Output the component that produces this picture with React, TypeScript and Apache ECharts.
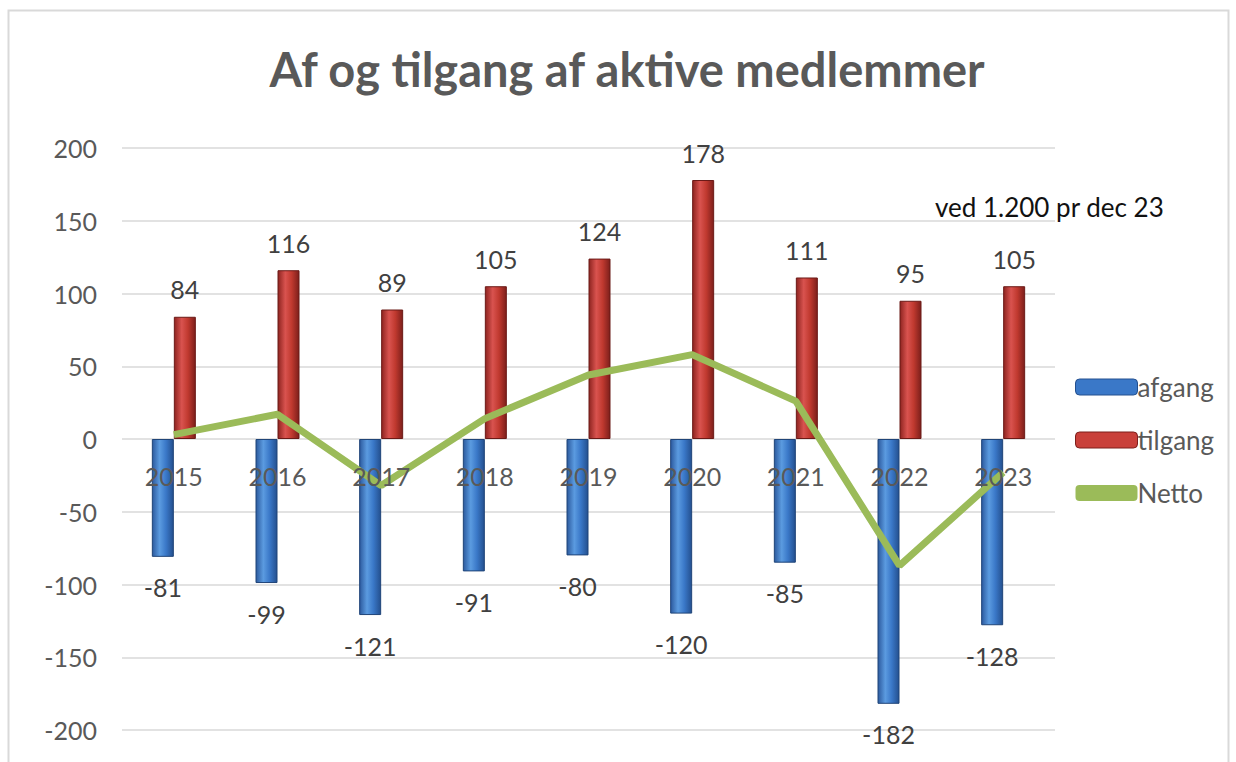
import React, { useEffect, useRef } from "react";
import * as echarts from "echarts";

const years = ["2015", "2016", "2017", "2018", "2019", "2020", "2021", "2022", "2023"];
const afgang = [-81, -99, -121, -91, -80, -120, -85, -182, -128];
const tilgang = [84, 116, 89, 105, 124, 178, 111, 95, 105];
const netto = [3, 17, -32, 14, 44, 58, 26, -87, -23];
const yTicks = { min: -200, max: 200, interval: 50 };

const FONT = "Lato, 'Open Sans', sans-serif";
const GREY = "#595959";

export default function App() {
  const ref = useRef<HTMLDivElement>(null);
  useEffect(() => {
    const chart = echarts.init(ref.current!, null, { renderer: "svg" });
    const blueGrad = new echarts.graphic.LinearGradient(0, 0, 1, 0, [
      { offset: 0, color: "#2c5a9e" },
      { offset: 0.35, color: "#5b9be0" },
      { offset: 0.65, color: "#3a78c8" },
      { offset: 1, color: "#24508f" },
    ]);
    const redGrad = new echarts.graphic.LinearGradient(0, 0, 1, 0, [
      { offset: 0, color: "#8e2420" },
      { offset: 0.35, color: "#d9534f" },
      { offset: 0.65, color: "#c0392f" },
      { offset: 1, color: "#7d1f1b" },
    ]);
    const gridTop = 148;
    const gridBottom = 32;
    const plotH = 762 - gridTop - gridBottom;
    // distance from bottom of plot to the zero line, derived from the y range
    const zeroOffset = (plotH * (0 - yTicks.min)) / (yTicks.max - yTicks.min);
    chart.setOption({
      animation: false,
      backgroundColor: "#ffffff",
      textStyle: { fontFamily: FONT },
      title: {
        text: "Af og tilgang af aktive medlemmer",
        left: 622,
        textAlign: "center",
        top: 40,
        textStyle: { fontSize: 47, fontWeight: "bold", color: GREY, fontFamily: FONT },
      },
      graphic: [
        {
          type: "rect",
          shape: { x: 8.5, y: 10.5, width: 1220, height: 770 },
          style: { fill: "none", stroke: "#d9d9d9", lineWidth: 2 },
          silent: true,
          z: -1,
        },
        {
          type: "text",
          left: 935,
          top: 194,
          style: { text: "ved 1.200 pr dec 23", fontSize: 26, fill: "#111", fontFamily: FONT },
        },
      ],
      legend: {
        orient: "vertical",
        left: 1070,
        top: 369,
        itemGap: 27,
        itemWidth: 62,
        itemHeight: 16,
        textStyle: { fontSize: 26, color: GREY, fontFamily: FONT, padding: [0, 0, 0, -5] },
        data: [
          { name: "afgang", itemStyle: { color: "#3a78c8", borderColor: "#24508f", borderWidth: 1 } },
          { name: "tilgang", itemStyle: { color: "#c9403a", borderColor: "#7d1f1b", borderWidth: 1 } },
          { name: "Netto", icon: "roundRect", itemStyle: { color: "#9bbb59" } },
        ],
      },
      grid: { left: 122, right: 181, top: gridTop, bottom: gridBottom, outerBoundsMode: "none", containLabel: false },
      xAxis: {
        type: "category",
        data: years,
        offset: -zeroOffset,
        axisLine: { onZero: false, show: false },
        axisTick: { show: false },
        axisLabel: { fontSize: 25, color: GREY, margin: 24, fontFamily: FONT },
        z: 10,
      },
      yAxis: {
        type: "value",
        min: yTicks.min,
        max: yTicks.max,
        interval: yTicks.interval,
        axisLabel: { fontSize: 25, color: GREY, margin: 25, fontFamily: FONT },
        splitLine: { lineStyle: { color: "#d9d9d9", width: 1.5 } },
        axisLine: { show: false },
        axisTick: { show: false },
      },
      series: [
        {
          name: "afgang",
          type: "bar",
          data: afgang,
          barWidth: 22,
          barGap: "0%",
          itemStyle: { color: blueGrad, borderColor: "#1f4478", borderWidth: 1 },
          label: {
            show: true,
            position: "bottom",
            distance: 18,
            fontSize: 25,
            color: "#404040",
            fontFamily: FONT,
          },
        },
        {
          name: "tilgang",
          type: "bar",
          data: tilgang,
          barWidth: 22,
          itemStyle: { color: redGrad, borderColor: "#6b1a17", borderWidth: 1 },
          label: {
            show: true,
            position: "top",
            distance: 15,
            fontSize: 25,
            color: "#404040",
            fontFamily: FONT,
          },
        },
        {
          name: "Netto",
          type: "line",
          data: netto,
          symbol: "none",
          lineStyle: { color: "#9bbb59", width: 7 },
          itemStyle: { color: "#9bbb59" },
          z: 5,
        },
      ],
    });
    return () => chart.dispose();
  }, []);
  return (
    <div
      ref={ref}
      style={{ position: "fixed", left: 0, top: 0, width: 1236, height: 762 }}
    />
  );
}
